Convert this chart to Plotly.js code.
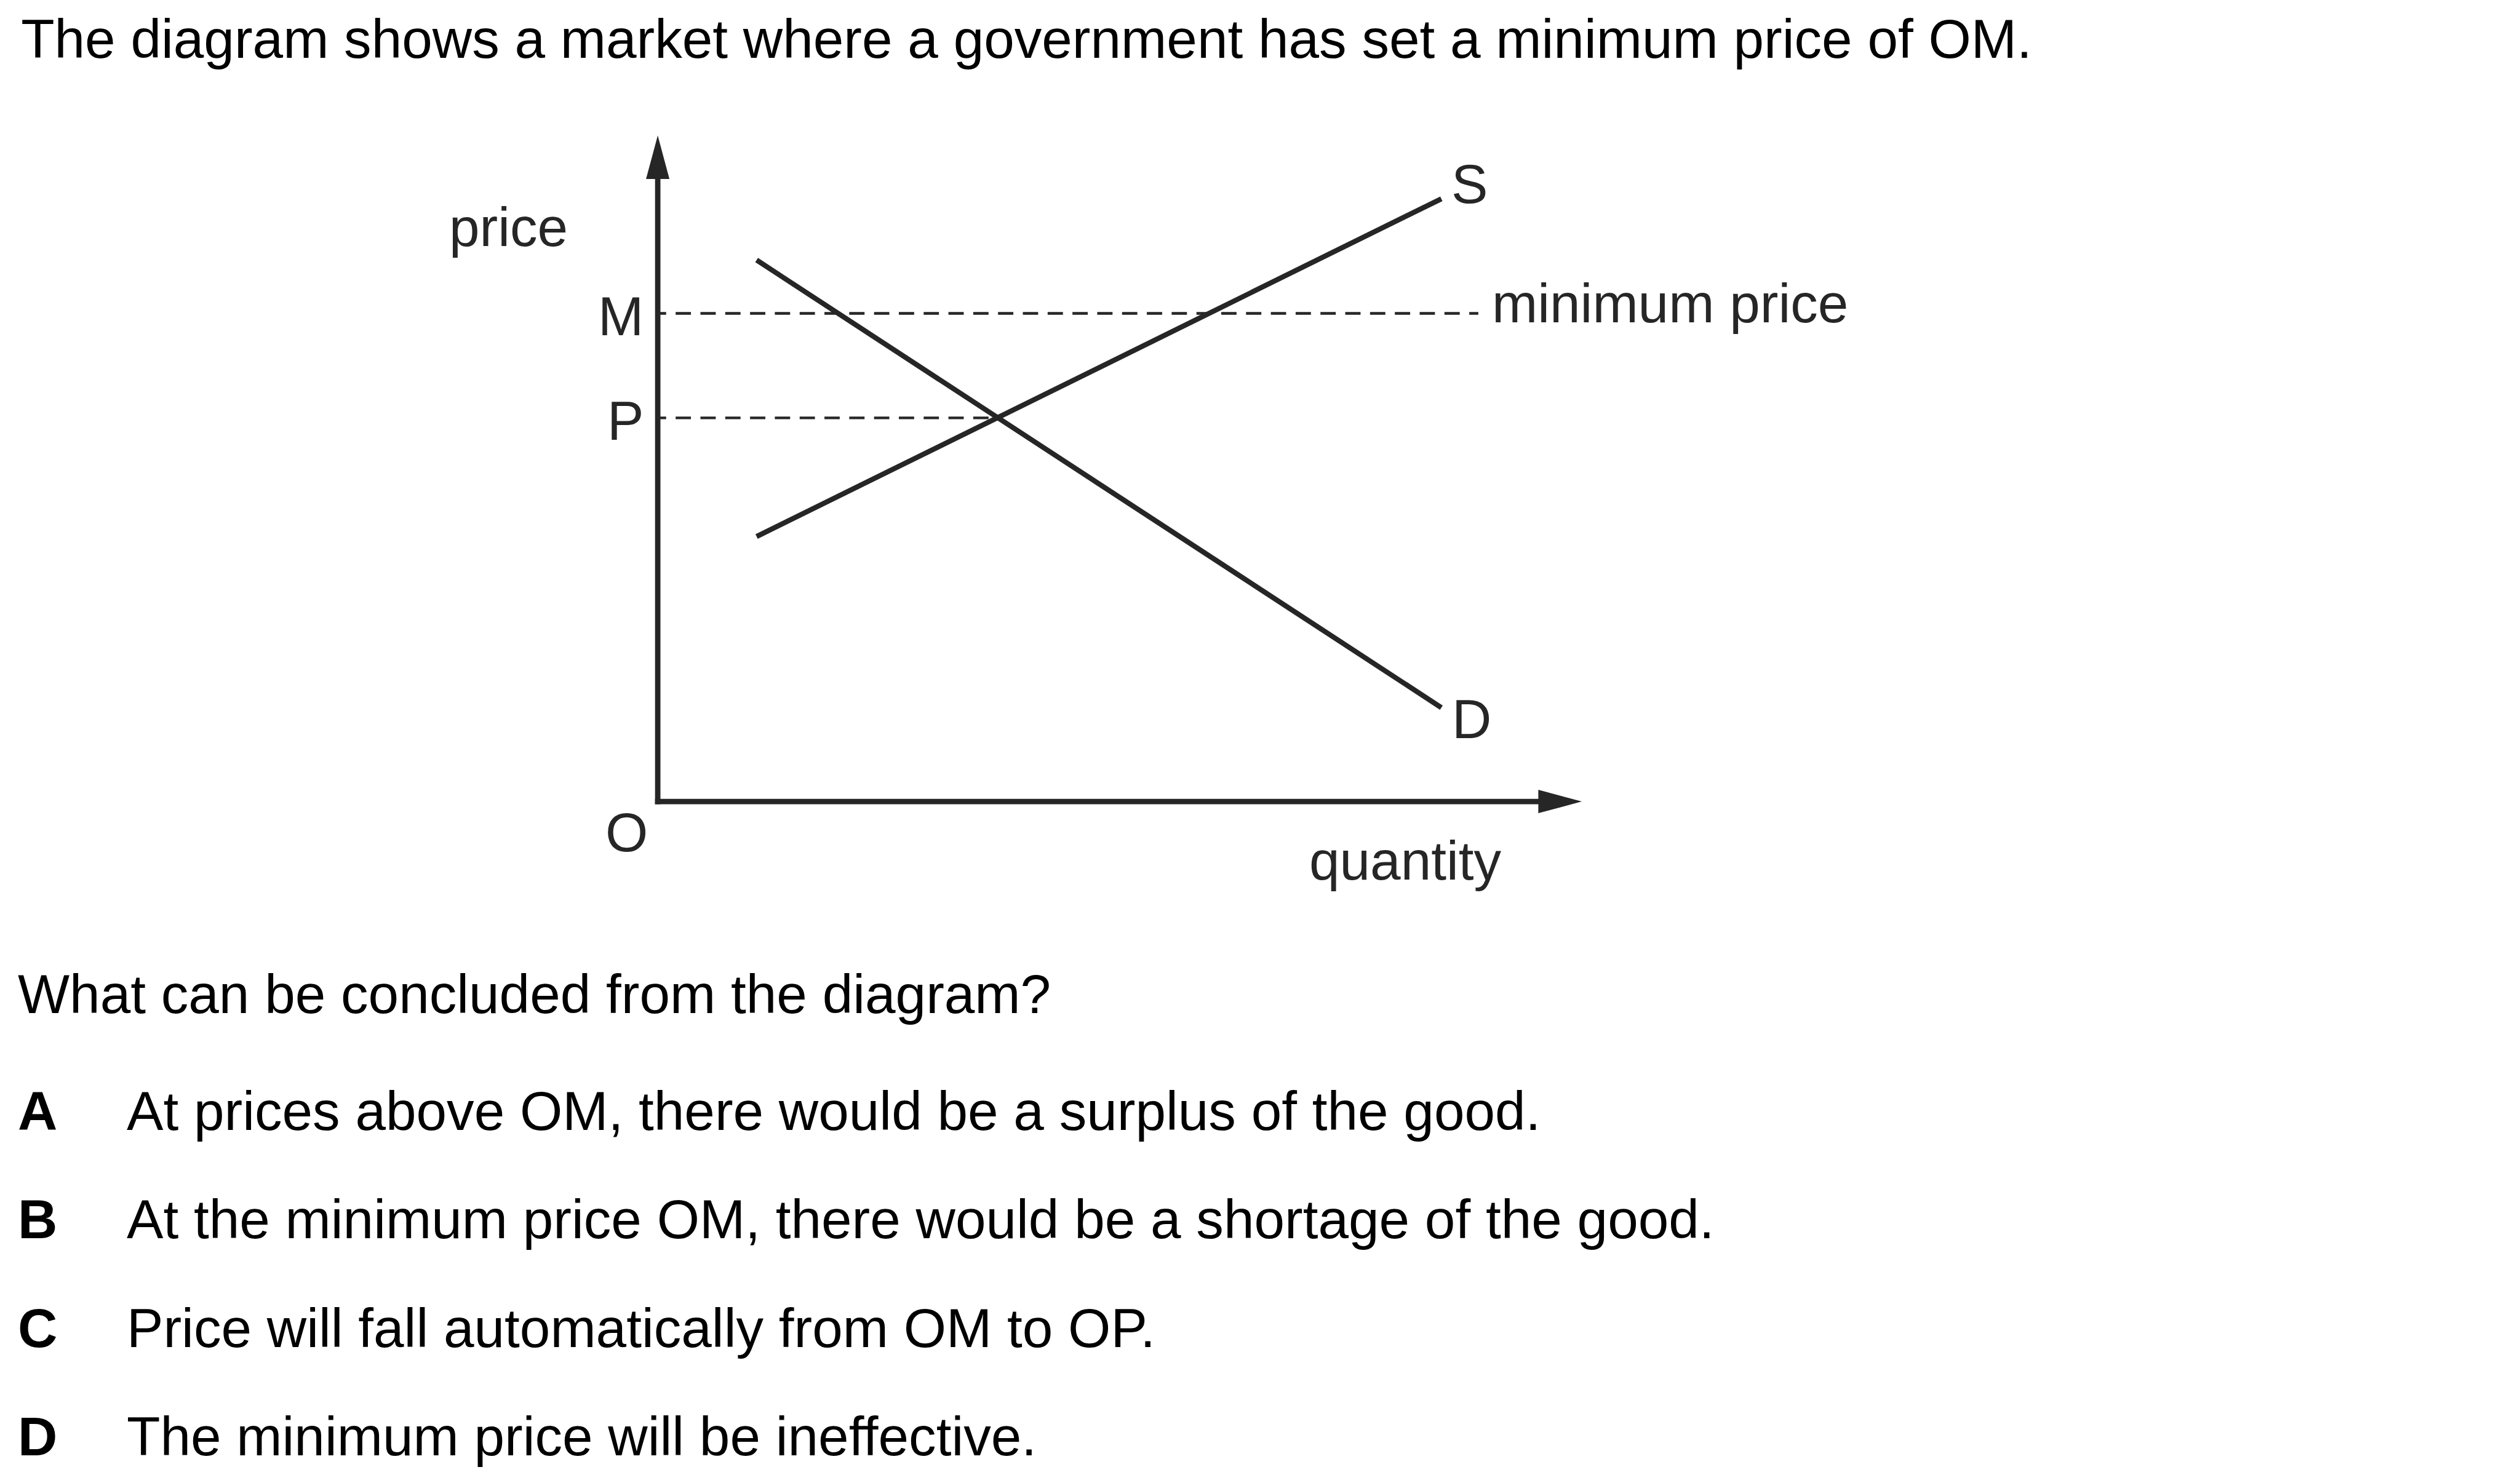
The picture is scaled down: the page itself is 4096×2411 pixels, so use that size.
<!DOCTYPE html>
<html>
<head>
<meta charset="utf-8">
<script src="https://cdn.plot.ly/plotly-3.0.1.min.js"></script>
<style>
html,body{margin:0;padding:0;background:#fff;overflow:hidden}
#chart{width:4096px;height:2411px}
</style>
</head>
<body>
<div id="chart"></div>
<script>
// ---------------- data (diagram units: each axis tip = 100) ----------------
const demandQuantity = [10.7, 84.8];
const demandPrice    = [81.3, 14.1];
const supplyQuantity = [10.7, 84.8];
const supplyPrice    = [39.8, 90.5];
const curveLabels    = ['D', 'S'];
const priceLevelNames = ['M', 'P'];
const priceLevels     = [73.3, 57.6];
const minimumPriceLineEnd = 88.8;
const axisMax = 100;
const axisLabels = ['price', 'quantity', 'O'];
const minimumPriceLabel = 'minimum price';
const titleText = 'The diagram shows a market where a government has set a minimum price of OM.';
const questionText = 'What can be concluded from the diagram?';
const optionLetters = ['A', 'B', 'C', 'D'];
const optionTexts = [
  'At prices above OM, there would be a surplus of the good.',
  'At the minimum price OM, there would be a shortage of the good.',
  'Price will fall automatically from OM to OP.',
  'The minimum price will be ineffective.'
];

// ---------------- geometry / style ----------------
const S = 0.975;                 // scale from reference
const W = 4096, H = 2411;
const FONT = 'Liberation Sans, Arial, Helvetica, sans-serif';
const FS = 91.4 * S;             // font size
const INK = '#262626';
const originX = 1096.5 * S, originY = 1336.5 * S;
const qPx = 15.405 * S;          // px per quantity unit
const pPx = 11.105 * S;          // px per price unit
const xRange = [-originX / qPx, (W - originX) / qPx];
const yRange = [-(H - originY) / pPx, originY / pPx];

function paperX(refPx) { return refPx * S / W; }
function paperY(refPx) { return 1 - refPx * S / H; }
function midFromBaseline(refBaseline) { return refBaseline - 0.3465 * 91.4; }

// equilibrium from the two curves
function intersect(ax, ay, bx, by) {
  const m1 = (ay[1] - ay[0]) / (ax[1] - ax[0]);
  const m2 = (by[1] - by[0]) / (bx[1] - bx[0]);
  const c1 = ay[0] - m1 * ax[0], c2 = by[0] - m2 * bx[0];
  const x = (c2 - c1) / (m1 - m2);
  return [x, m1 * x + c1];
}
const eq = intersect(demandQuantity, demandPrice, supplyQuantity, supplyPrice);

// dash pattern: partial first dash (phase), then regular dashes
const dashLen = 25.5 * S, gapLen = 15.85 * S, firstDash = 14 * S;
let dashParts = [firstDash.toFixed(2) + 'px', gapLen.toFixed(2) + 'px'];
for (let i = 0; i < 40; i++) dashParts.push(dashLen.toFixed(2) + 'px', gapLen.toFixed(2) + 'px');
const dashStyle = dashParts.join(',');

const traces = [
  { x: [0, minimumPriceLineEnd], y: [priceLevels[0], priceLevels[0]], mode: 'lines',
    line: { color: INK, width: 4.5 * S, dash: dashStyle }, name: 'minimum price', hoverinfo: 'skip' },
  { x: [0, eq[0]], y: [priceLevels[1], priceLevels[1]], mode: 'lines',
    line: { color: INK, width: 4.5 * S, dash: dashStyle }, name: 'P', hoverinfo: 'skip' },
  { x: demandQuantity, y: demandPrice, mode: 'lines', name: 'D',
    line: { color: INK, width: 8.5 * S }, hoverinfo: 'skip' },
  { x: supplyQuantity, y: supplyPrice, mode: 'lines', name: 'S',
    line: { color: INK, width: 8.5 * S }, hoverinfo: 'skip' }
];

// axes with arrowheads
const axW = 9 * S;
const arrowLen = 72.5 * S, arrowHalf = 19.5 * S;
const yBase = axisMax - arrowLen / pPx, xBase = axisMax - arrowLen / qPx;
const shapes = [
  { type: 'line', xref: 'x', yref: 'y', x0: 0, x1: 0, y0: -(axW / 2) / pPx, y1: yBase + 1,
    line: { color: INK, width: axW }, layer: 'above' },
  { type: 'line', xref: 'x', yref: 'y', y0: 0, y1: 0, x0: -(axW / 2) / qPx, x1: xBase + 1,
    line: { color: INK, width: axW }, layer: 'above' },
  { type: 'path', xref: 'x', yref: 'y', layer: 'above', fillcolor: INK, line: { width: 0 },
    path: `M ${-arrowHalf / qPx},${yBase} L ${arrowHalf / qPx},${yBase} L 0,${axisMax} Z` },
  { type: 'path', xref: 'x', yref: 'y', layer: 'above', fillcolor: INK, line: { width: 0 },
    path: `M ${xBase},${-arrowHalf / pPx} L ${xBase},${arrowHalf / pPx} L ${axisMax},0 Z` }
];

const diagFont = { family: FONT, size: FS, color: INK };
const textFont = { family: FONT, size: FS, color: '#000' };
const ann = [];
priceLevelNames.forEach((n, i) => ann.push({
  xref: 'x', yref: 'y', x: 0, y: priceLevels[i], text: n, showarrow: false,
  xanchor: 'right', yanchor: 'middle', xshift: -21, yshift: -5 * S, font: diagFont
}));
ann.push({ xref: 'x', yref: 'y', x: demandQuantity[1], y: demandPrice[1], text: curveLabels[0],
  showarrow: false, xanchor: 'center', yanchor: 'middle', xshift: 50 * S, yshift: -19.3 * S, font: diagFont });
ann.push({ xref: 'x', yref: 'y', x: supplyQuantity[1], y: supplyPrice[1], text: curveLabels[1],
  showarrow: false, xanchor: 'center', yanchor: 'middle', xshift: 47 * S, yshift: 24.7 * S, font: diagFont });
ann.push({ xref: 'x', yref: 'y', x: minimumPriceLineEnd, y: priceLevels[0], text: minimumPriceLabel,
  showarrow: false, xanchor: 'left', yanchor: 'middle', xshift: 21 * S, yshift: 16.7 * S, font: diagFont });
ann.push({ xref: 'paper', yref: 'paper', x: paperX(848), y: paperY(midFromBaseline(410)), text: axisLabels[0],
  showarrow: false, xanchor: 'center', yanchor: 'middle', font: diagFont });
ann.push({ xref: 'paper', yref: 'paper', x: paperX(2343), y: paperY(midFromBaseline(1467)), text: axisLabels[1],
  showarrow: false, xanchor: 'center', yanchor: 'middle', font: diagFont });
ann.push({ xref: 'paper', yref: 'paper', x: paperX(1045), y: paperY(midFromBaseline(1419.4)), text: axisLabels[2],
  showarrow: false, xanchor: 'center', yanchor: 'middle', font: diagFont });
ann.push({ xref: 'paper', yref: 'paper', x: paperX(28), y: paperY(midFromBaseline(1689)), text: questionText,
  showarrow: false, xanchor: 'left', yanchor: 'middle', font: textFont });
const optionBaselines = [1884, 2065, 2246, 2427];
optionLetters.forEach((l, i) => {
  ann.push({ xref: 'paper', yref: 'paper', x: paperX(28), y: paperY(midFromBaseline(optionBaselines[i])),
    text: '<b>' + l + '</b>', showarrow: false, xanchor: 'left', yanchor: 'middle', font: textFont });
  ann.push({ xref: 'paper', yref: 'paper', x: paperX(209), y: paperY(midFromBaseline(optionBaselines[i])),
    text: optionTexts[i], showarrow: false, xanchor: 'left', yanchor: 'middle', font: textFont });
});

const layout = {
  width: W, height: H,
  margin: { l: 0, r: 0, t: 0, b: 0, pad: 0 },
  paper_bgcolor: '#fff', plot_bgcolor: '#fff',
  showlegend: false, hovermode: false,
  title: { text: titleText, font: textFont, xref: 'container', yref: 'container',
    x: 35 * S / W, xanchor: 'left', y: 1 - (96.7 - 0.35 * 91.4) * S / H, yanchor: 'middle' },
  xaxis: { range: xRange, visible: false, showgrid: false, zeroline: false, fixedrange: true },
  yaxis: { range: yRange, visible: false, showgrid: false, zeroline: false, fixedrange: true },
  shapes: shapes,
  annotations: ann
};

Plotly.newPlot('chart', traces, layout, { displayModeBar: false, staticPlot: true });
</script>
</body>
</html>
